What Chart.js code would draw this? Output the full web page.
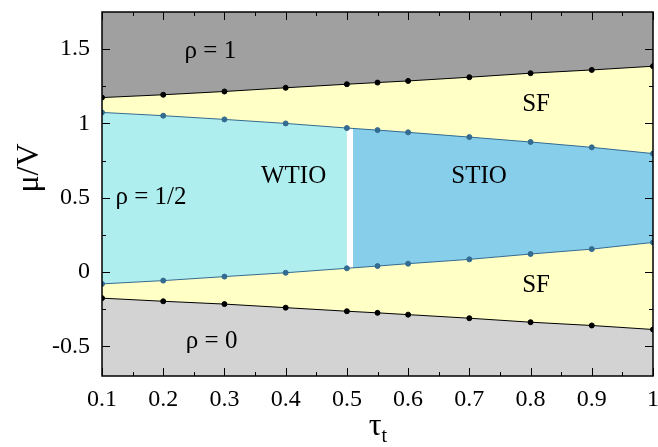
<!DOCTYPE html>
<html>
<head>
<meta charset="utf-8">
<script src="https://cdn.jsdelivr.net/npm/chart.js@4.4.1/dist/chart.umd.min.js"></script>
<style>
  body { margin: 0; background: #fff; }
  #phaseChart { display: block; }
</style>
</head>
<body>
<canvas id="phaseChart" width="658" height="447"></canvas>
<script>
// boundary points (tau_t, mu/V)
const tauValues = [0.1, 0.2, 0.3, 0.4, 0.5, 0.55, 0.6, 0.7, 0.8, 0.9, 1];
const muUpperRho1 = [1.174, 1.193, 1.215, 1.24, 1.264, 1.275, 1.286, 1.311, 1.338, 1.36, 1.385];
const muLowerRho0 = [-0.176, -0.197, -0.216, -0.24, -0.264, -0.275, -0.287, -0.311, -0.338, -0.36, -0.387];
const muUpperHalf = [1.074, 1.052, 1.027, 1.0, 0.969, 0.955, 0.94, 0.908, 0.875, 0.839, 0.797];
const muLowerHalf = [-0.08, -0.058, -0.031, -0.005, 0.025, 0.04, 0.056, 0.085, 0.121, 0.154, 0.199];

// STIO region starts just right of tau = 0.5
const stioTau = [0.51, 0.55, 0.6, 0.7, 0.8, 0.9, 1];
const stioUpper = [0.966, 0.955, 0.94, 0.908, 0.875, 0.839, 0.797];
const stioLower = [0.028, 0.04, 0.056, 0.085, 0.121, 0.154, 0.199];

const xTicks = [0.1, 0.2, 0.3, 0.4, 0.5, 0.6, 0.7, 0.8, 0.9, 1];
const xTickLabels = ['0.1', '0.2', '0.3', '0.4', '0.5', '0.6', '0.7', '0.8', '0.9', '1'];
const yTicks = [-0.5, 0, 0.5, 1, 1.5];
const yTickLabels = ['-0.5', '0', '0.5', '1', '1.5'];

const regionLabels = [
    { text: 'ρ = 1', tau: 0.277, mu: 1.487 },
    { text: 'SF', tau: 0.809, mu: 1.131 },
    { text: 'WTIO', tau: 0.413, mu: 0.644 },
    { text: 'STIO', tau: 0.716, mu: 0.641 },
    { text: 'ρ = 1/2', tau: 0.18, mu: 0.503 },
    { text: 'SF', tau: 0.809, mu: -0.09 },
    { text: 'ρ = 0', tau: 0.279, mu: -0.47 }
];

const serif = '"Liberation Serif", "Times New Roman", Times, serif';
const blueLine = '#346b90';

function pts(xs, ys) {
    return xs.map((x, i) => ({ x: x, y: ys[i] }));
}

const hidden = { borderWidth: 0, pointRadius: 0, pointHoverRadius: 0 };

const datasets = [
    // 0..3 visible boundary lines with markers
    { data: pts(tauValues, muUpperRho1), borderColor: '#000', backgroundColor: '#a0a0a0', pointBackgroundColor: '#000',
      borderWidth: 1, pointRadius: 2.5, fill: 'end', order: 1 },
    { data: pts(tauValues, muLowerRho0), borderColor: '#000', backgroundColor: '#d3d3d3', pointBackgroundColor: '#000',
      borderWidth: 1, pointRadius: 2.5, fill: 'start', order: 1 },
    { data: pts(tauValues, muUpperHalf), borderColor: blueLine, backgroundColor: blueLine, borderWidth: 1,
      pointRadius: 2.5, fill: false, order: 1 },
    { data: pts(tauValues, muLowerHalf), borderColor: blueLine, backgroundColor: blueLine, borderWidth: 1,
      pointRadius: 2.5, fill: false, order: 1 },
    // 4,5 WTIO band
    Object.assign({ data: pts(tauValues.filter(t => t <= 0.5), muUpperHalf), fill: 5, backgroundColor: '#afeeee', order: 2 }, hidden),
    Object.assign({ data: pts(tauValues.filter(t => t <= 0.5), muLowerHalf), fill: false, order: 2 }, hidden),
    // 6,7 STIO band
    Object.assign({ data: pts(stioTau, stioUpper), fill: 7, backgroundColor: '#87ceeb', order: 2 }, hidden),
    Object.assign({ data: pts(stioTau, stioLower), fill: false, order: 2 }, hidden),
    // 8 white gap between the two rho = 1/2 phases
    Object.assign({ data: pts(tauValues, muUpperHalf), fill: 3, backgroundColor: '#ffffff', order: 3 }, hidden),
    // 9 superfluid band between the black lines
    Object.assign({ data: pts(tauValues, muUpperRho1), fill: 1, backgroundColor: '#ffffc6', order: 4 }, hidden)
];

const frame = {
    id: 'frame',
    afterDatasetsDraw(chart) {
        const ctx = chart.ctx;
        const xs = chart.scales.x, ys = chart.scales.y;
        const a = chart.chartArea;
        ctx.save();
        ctx.fillStyle = '#000';
        ctx.font = '25px ' + serif;
        ctx.textAlign = 'center';
        ctx.textBaseline = 'middle';
        regionLabels.forEach(l => {
            ctx.fillText(l.text, xs.getPixelForValue(l.tau), ys.getPixelForValue(l.mu));
        });

        // inward ticks on all four sides
        ctx.strokeStyle = '#000';
        ctx.lineWidth = 1;
        ctx.beginPath();
        xTicks.forEach((v, i) => {
            const px = Math.round(xs.getPixelForValue(v)) + 0.5;
            ctx.moveTo(px, a.bottom); ctx.lineTo(px, a.bottom - 8);
            ctx.moveTo(px, a.top); ctx.lineTo(px, a.top + 8);
            if (i < xTicks.length - 1) {
                const mx = Math.round(xs.getPixelForValue((v + xTicks[i + 1]) / 2)) + 0.5;
                ctx.moveTo(mx, a.bottom); ctx.lineTo(mx, a.bottom - 4);
                ctx.moveTo(mx, a.top); ctx.lineTo(mx, a.top + 4);
            }
        });
        const yMinor = [-0.25, 0.25, 0.75, 1.25];
        yTicks.forEach(v => {
            const py = Math.round(ys.getPixelForValue(v)) + 0.5;
            ctx.moveTo(a.left, py); ctx.lineTo(a.left + 8, py);
            ctx.moveTo(a.right, py); ctx.lineTo(a.right - 8, py);
        });
        yMinor.forEach(v => {
            const py = Math.round(ys.getPixelForValue(v)) + 0.5;
            ctx.moveTo(a.left, py); ctx.lineTo(a.left + 4, py);
            ctx.moveTo(a.right, py); ctx.lineTo(a.right - 4, py);
        });
        ctx.stroke();
        ctx.lineWidth = 1.5;
        ctx.strokeRect(a.left, a.top, a.right - a.left, a.bottom - a.top);

        // axis titles
        ctx.font = '32px ' + serif;
        ctx.save();
        ctx.translate(30, (a.top + a.bottom) / 2 - 26);
        ctx.rotate(-Math.PI / 2);
        ctx.fillText('μ/V', 0, 0);
        ctx.restore();
        const cx = (a.left + a.right) / 2;
        ctx.textAlign = 'right';
        ctx.fillText('τ', cx + 4, 427);
        ctx.textAlign = 'left';
        ctx.font = '20px ' + serif;
        ctx.fillText('t', cx + 4, 437);
        ctx.restore();
    }
};

function renderChart() {
    const ctx = document.getElementById('phaseChart').getContext('2d');
    const phaseChart = new Chart(ctx, {
        type: 'line',
        data: { datasets: datasets },
        options: {
            responsive: false,
            devicePixelRatio: 1,
            animation: false,
            events: [],
            layout: { padding: { left: 0, right: 4, top: 12, bottom: 0 } },
            elements: { line: { tension: 0 } },
            scales: {
                x: {
                    type: 'linear',
                    min: 0.1,
                    max: 1,
                    grid: { display: false, drawTicks: false },
                    border: { display: false },
                    afterBuildTicks: s => { s.ticks = xTicks.map(v => ({ value: v })); },
                    ticks: {
                        padding: 9,
                        color: '#000',
                        font: { family: serif, size: 24 },
                        maxRotation: 0,
                        autoSkip: false,
                        callback: (v, i) => xTickLabels[i]
                    },
                    afterFit: s => { s.height = 71; s.paddingLeft = 0; s.paddingRight = 0; }
                },
                y: {
                    type: 'linear',
                    min: -0.7,
                    max: 1.75,
                    grid: { display: false, drawTicks: false },
                    border: { display: false },
                    afterBuildTicks: s => { s.ticks = yTicks.map(v => ({ value: v })); },
                    ticks: {
                        padding: 12,
                        color: '#000',
                        font: { family: serif, size: 24 },
                        autoSkip: false,
                        callback: (v, i) => yTickLabels[i]
                    },
                    afterFit: s => { s.width = 102; s.paddingTop = 0; s.paddingBottom = 0; }
                }
            },
            plugins: {
                legend: { display: false },
                tooltip: { enabled: false },
                title: { display: false }
            }
        },
        plugins: [frame]
    });
}

Promise.all([
    document.fonts.load('24px "Liberation Serif"'),
    document.fonts.load('24px "Liberation Serif"', 'ρμτ')
]).catch(() => {}).then(renderChart);
</script>
</body>
</html>
